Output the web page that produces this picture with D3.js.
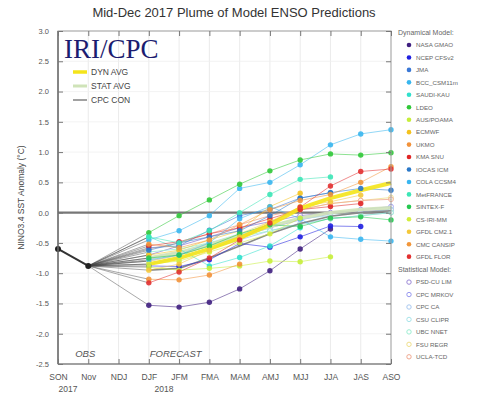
<!DOCTYPE html>
<html><head><meta charset="utf-8">
<script src="https://cdn.jsdelivr.net/npm/d3@7"></script>
<style>
body{margin:0;background:#fff;}
svg{display:block;font-family:"Liberation Sans",Arial,sans-serif;}
</style></head>
<body><svg id="c" width="487" height="400"></svg>
<script>
const seasons = ["SON","Nov","NDJ","DJF","JFM","FMA","MAM","AMJ","MJJ","JJA","JAS","ASO"];
const forecastSeasons = ["DJF","JFM","FMA","MAM","AMJ","MJJ","JJA","JAS","ASO"];
const obsSeasons = ["SON","Nov"];
const obsValues = [-0.6, -0.88];
const yTicks = [-2.5,-2.0,-1.5,-1.0,-0.5,0.0,0.5,1.0,1.5,2.0,2.5,3.0];

const dynNames = ["NASA GMAO","NCEP CFSv2","JMA","BCC_CSM11m","SAUDI-KAU","LDEO","AUS/POAMA","ECMWF","UKMO","KMA SNU","IOCAS ICM","COLA CCSM4","MetFRANCE","SINTEX-F","CS-IRI-MM","GFDL CM2.1","CMC CANSIP","GFDL FLOR"];
const dynColors = ["#3f1f80","#1f1fe0","#3a78d6","#38b6ee","#30e0cc","#30c838","#c6ee3a","#f4c21e","#f2923a","#e02626","#2a78c8","#3ab6f0","#3ce6b6","#26c850","#d2ee3a","#f4c83a","#f2963a","#e23030"];
const dynValues = [
  [-1.53,-1.56,-1.48,-1.26,-0.96,-0.60,-0.27,null,null],
  [-0.88,-0.89,-0.78,-0.51,-0.57,-0.40,-0.22,-0.23,null],
  [-0.58,-0.55,-0.29,-0.05,0.05,0.24,0.33,null,null],
  [-0.45,-0.30,-0.05,0.40,0.50,0.79,1.12,1.30,1.37],
  [-0.40,-0.60,-0.88,-0.74,-0.55,-0.25,null,null,null],
  [-0.33,-0.05,0.21,0.47,0.69,0.87,0.97,0.95,0.99],
  [-0.90,-0.95,-0.92,-0.88,-0.80,-0.81,-0.73,null,null],
  [-0.70,-0.62,-0.45,-0.30,0.10,0.32,null,null,null],
  [-1.10,-1.11,-1.03,-0.85,null,null,null,null,null],
  [-0.55,-0.48,-0.35,-0.25,-0.10,0.05,0.10,0.15,null],
  [-0.62,-0.50,-0.40,-0.30,-0.05,0.24,0.33,0.40,0.37],
  [-0.78,-0.70,-0.50,-0.10,0.10,-0.10,-0.40,-0.44,-0.47],
  [-0.40,-0.50,-0.30,0.00,0.30,0.55,0.59,null,null],
  [-0.75,-0.70,-0.55,-0.35,-0.20,-0.23,-0.09,-0.07,-0.12],
  [-0.85,-0.80,-0.65,-0.50,-0.35,-0.09,null,null,null],
  [-0.95,-0.85,-0.62,-0.40,-0.15,0.10,0.18,0.29,null],
  [-0.52,-0.58,-0.45,-0.20,0.05,0.20,0.30,0.50,0.76],
  [-1.16,-0.98,-0.75,-0.45,-0.17,0.09,0.44,0.68,0.72]
];
const statNames = ["PSD-CU LIM","CPC MRKOV","CPC CA","CSU CLIPR","UBC NNET","FSU REGR","UCLA-TCD"];
const statColors = ["#9a86d6","#9898f0","#a8c8f0","#a8e4ea","#9ceed2","#f0e08c","#f0a890"];
const statValues = [
  [-0.70,-0.55,-0.40,-0.25,-0.15,-0.05,0.00,0.02,0.05],
  [-0.80,-0.70,-0.55,-0.40,-0.25,-0.12,-0.02,0.05,0.10],
  [-0.85,-0.75,-0.60,-0.45,-0.30,-0.18,-0.10,-0.05,0.00],
  [-0.75,-0.65,-0.50,-0.35,-0.20,-0.10,-0.05,0.00,0.05],
  [-0.65,-0.60,-0.50,-0.40,-0.30,-0.20,-0.10,-0.05,0.00],
  [-0.80,-0.70,-0.55,-0.35,-0.15,0.05,0.15,0.20,0.25],
  [-0.60,-0.50,-0.35,-0.20,-0.05,0.05,0.15,0.20,0.22]
];
const dynAvg  = [-0.85,-0.75,-0.60,-0.42,-0.20,0.07,0.24,0.37,0.49];
const statAvg = [-0.75,-0.66,-0.53,-0.38,-0.23,-0.09,0.00,0.05,0.08];
const cpcCon  = [-0.95,-0.92,-0.75,-0.55,-0.35,-0.18,-0.06,0.00,0.03];
const avgNames = ["DYN AVG","STAT AVG","CPC CON"];

const svg = d3.select("#c");
const L=58, R=391, T=31, B=364;
const x = d3.scalePoint().domain(seasons).range([L,R]);
const y = d3.scaleLinear().domain([-2.5,3.0]).range([B,T]);

// title
svg.append("text").attr("x",234).attr("y",17).attr("text-anchor","middle")
  .attr("font-size",13).attr("fill","#333").text("Mid-Dec 2017 Plume of Model ENSO Predictions");

// grid
const g = svg.append("g");
g.selectAll("line.vg").data(seasons.slice(1,-1)).join("line")
  .attr("x1",d=>x(d)).attr("x2",d=>x(d)).attr("y1",T).attr("y2",B)
  .attr("stroke","#e6e6e6").attr("stroke-width",0.8);
g.selectAll("line.hg").data(yTicks.slice(1,-1)).join("line")
  .attr("x1",L).attr("x2",R).attr("y1",d=>y(d)).attr("y2",d=>y(d))
  .attr("stroke","#f0f0f0").attr("stroke-width",0.8);

// zero line
svg.append("line").attr("x1",L).attr("x2",R).attr("y1",y(0)).attr("y2",y(0))
  .attr("stroke","#777").attr("stroke-width",2.2);

const fmt = v => v.toFixed(1);
const line = d3.line().defined(d=>d[1]!==null).x(d=>x(d[0])).y(d=>y(d[1]));
const pairs = vals => forecastSeasons.map((s,i)=>[s,vals[i]]);

// fan lines from last obs to first forecast
const allSeries = dynValues.concat(statValues);
svg.append("g").selectAll("line").data(allSeries).join("line")
  .attr("x1",x("Nov")).attr("y1",y(obsValues[1]))
  .attr("x2",x("DJF")).attr("y2",d=>y(d[0]))
  .attr("stroke","#444").attr("stroke-width",0.7).attr("opacity",0.65);

// statistical models
statValues.forEach((vals,i)=>{
  const gg = svg.append("g");
  gg.append("path").datum(pairs(vals)).attr("d",line).attr("fill","none")
    .attr("stroke",statColors[i]).attr("stroke-width",1).attr("opacity",0.8);
  gg.selectAll("circle").data(pairs(vals).filter(d=>d[1]!==null)).join("circle")
    .attr("cx",d=>x(d[0])).attr("cy",d=>y(d[1])).attr("r",2.4)
    .attr("fill","#fff").attr("fill-opacity",0.4).attr("stroke",statColors[i]).attr("stroke-width",0.9);
});

// averages
svg.append("path").datum(pairs(statAvg)).attr("d",line).attr("fill","none")
  .attr("stroke","#cfe3b8").attr("stroke-width",3.5).attr("opacity",0.9);
svg.append("path").datum(pairs(cpcCon)).attr("d",line).attr("fill","none")
  .attr("stroke","#8a8a8a").attr("stroke-width",1.6);

// dynamical models
dynValues.forEach((vals,i)=>{
  const gg = svg.append("g");
  gg.append("path").datum(pairs(vals)).attr("d",line).attr("fill","none")
    .attr("stroke",dynColors[i]).attr("stroke-width",1).attr("opacity",0.55);
});
svg.append("path").datum(pairs(dynAvg)).attr("d",line).attr("fill","none")
  .attr("stroke","#f4e41a").attr("stroke-width",4).attr("opacity",0.9);
dynValues.forEach((vals,i)=>{
  svg.append("g").selectAll("circle").data(pairs(vals).filter(d=>d[1]!==null)).join("circle")
    .attr("cx",d=>x(d[0])).attr("cy",d=>y(d[1])).attr("r",2.7)
    .attr("fill",dynColors[i]).attr("opacity",0.9);
});

// observations
const obsPairs = obsSeasons.map((s,i)=>[s,obsValues[i]]);
svg.append("path").datum(obsPairs).attr("d",line).attr("fill","none")
  .attr("stroke","#333").attr("stroke-width",2);
svg.append("g").selectAll("circle").data(obsPairs).join("circle")
  .attr("cx",d=>x(d[0])).attr("cy",d=>y(d[1])).attr("r",3).attr("fill","#222");

// frame
svg.append("rect").attr("x",L).attr("y",T).attr("width",R-L).attr("height",B-T)
  .attr("fill","none").attr("stroke","#999").attr("stroke-width",1);
svg.append("line").attr("x1",L).attr("x2",L).attr("y1",T).attr("y2",B).attr("stroke","#555").attr("stroke-width",1.2);
svg.append("line").attr("x1",L).attr("x2",R).attr("y1",B).attr("y2",B).attr("stroke","#777").attr("stroke-width",1.2);

// axes
const styleAxis = sel => { sel.select(".domain").remove(); sel.selectAll(".tick line").attr("stroke","#777"); sel.selectAll("text").attr("fill","#555"); };
svg.append("g").attr("transform",`translate(${L},0)`)
  .call(d3.axisLeft(y).tickValues(yTicks).tickFormat(fmt).tickSizeInner(-5).tickPadding(9))
  .call(styleAxis).selectAll("text").attr("font-size",7.5).attr("font-family","Liberation Sans, Arial");
svg.append("g").attr("transform",`translate(${R},0)`)
  .call(d3.axisRight(y).tickValues(yTicks).tickFormat("").tickSizeInner(-5))
  .call(styleAxis);
svg.append("g").attr("transform",`translate(0,${B})`)
  .call(d3.axisBottom(x).tickSizeInner(-5).tickPadding(10))
  .call(styleAxis).selectAll("text").attr("font-size",8.5).attr("font-family","Liberation Sans, Arial");
svg.append("g").attr("transform",`translate(0,${T})`)
  .call(d3.axisTop(x).tickFormat("").tickSizeInner(-5))
  .call(styleAxis);

// year labels
svg.append("text").attr("x",x("SON")+10).attr("y",392).attr("text-anchor","middle")
  .attr("font-size",8.5).attr("fill","#555").text("2017");
svg.append("text").attr("x",(x("DJF")+x("JFM"))/2).attr("y",392).attr("text-anchor","middle")
  .attr("font-size",8.5).attr("fill","#555").text("2018");

// y label
svg.append("text").attr("transform",`translate(24,${(T+B)/2}) rotate(-90)`)
  .attr("text-anchor","middle").attr("font-size",8.5).attr("fill","#444")
  .text("NINO3.4 SST Anomaly (°C)");

// OBS / FORECAST
svg.append("text").attr("x",x("Nov")-3).attr("y",357).attr("text-anchor","middle")
  .attr("font-size",9.5).attr("font-style","italic").attr("fill","#555").text("OBS");
svg.append("text").attr("x",x("DJF")+1).attr("y",357)
  .attr("font-size",9.5).attr("font-style","italic").attr("fill","#555").text("FORECAST");

// IRI/CPC
svg.append("text").attr("x",64).attr("y",58).attr("font-family","Liberation Serif, Times New Roman, serif")
  .attr("font-size",27).attr("fill","#1c1c70").text("IRI/CPC");

// in-plot legend
const avgColors = ["#f4e41a","#cfe3b8","#8a8a8a"];
const avgWidths = [3.5,3,1.6];
avgNames.forEach((n,i)=>{
  const yy = 72 + i*14;
  svg.append("line").attr("x1",73).attr("x2",87).attr("y1",yy).attr("y2",yy)
    .attr("stroke",avgColors[i]).attr("stroke-width",avgWidths[i]);
  svg.append("text").attr("x",91).attr("y",yy+3).attr("font-size",8.5).attr("fill","#444").text(n);
});

// right legend
const lg = svg.append("g");
lg.append("text").attr("x",398).attr("y",35).attr("font-size",7).attr("fill","#666").text("Dynamical Model:");
dynNames.forEach((n,i)=>{
  const yy = 45 + i*12.45;
  lg.append("circle").attr("cx",409).attr("cy",yy).attr("r",2.3).attr("fill",dynColors[i]);
  lg.append("text").attr("x",416).attr("y",yy+2.3).attr("font-size",6.2).attr("fill","#666").text(n);
});
const sy0 = 45 + 18*12.45;
lg.append("text").attr("x",398).attr("y",sy0+3).attr("font-size",7).attr("fill","#666").text("Statistical Model:");
statNames.forEach((n,i)=>{
  const yy = sy0 + 13 + i*12.45;
  lg.append("circle").attr("cx",409).attr("cy",yy).attr("r",2.2).attr("fill","#fff")
    .attr("stroke",statColors[i]).attr("stroke-width",1);
  lg.append("text").attr("x",416).attr("y",yy+2.3).attr("font-size",6.2).attr("fill","#666").text(n);
});
</script></body></html>
